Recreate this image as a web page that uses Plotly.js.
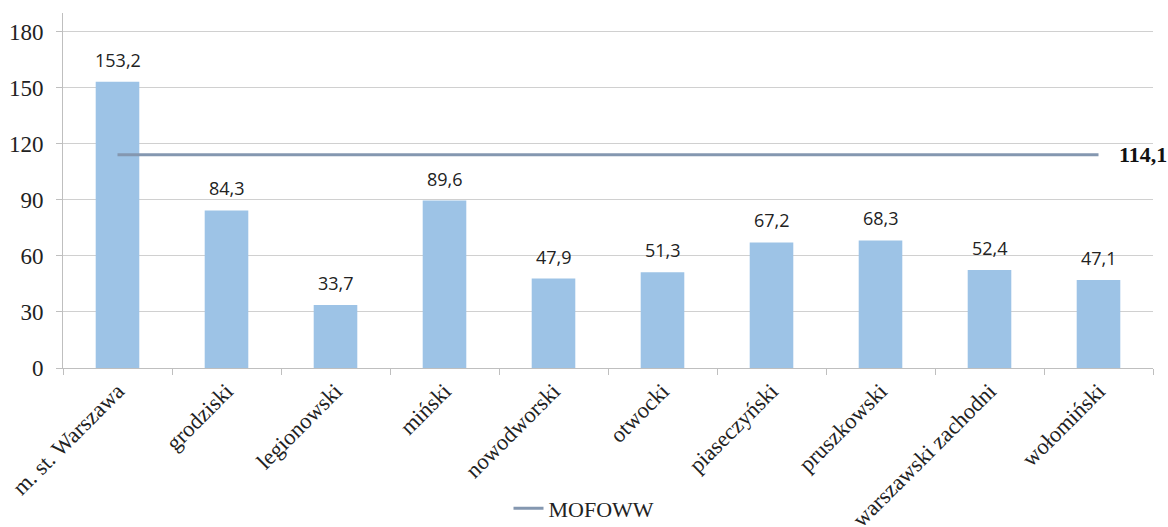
<!DOCTYPE html>
<html>
<head>
<meta charset="utf-8">
<script src="https://cdn.plot.ly/plotly-3.0.1.min.js"></script>
<style>html,body{margin:0;padding:0;background:#fff;}#chart{width:1168px;height:527px;}</style>
</head>
<body>
<div id="chart"></div>
<script>
const categories = ["m. st. Warszawa","grodziski","legionowski","miński","nowodworski","otwocki","piaseczyński","pruszkowski","warszawski zachodni","wołomiński"];
const values = [153.2, 84.3, 33.7, 89.6, 47.9, 51.3, 67.2, 68.3, 52.4, 47.1];
const mofowwValue = 114.1;
const mofowwLine = categories.map(() => mofowwValue);
const yTicks = [0, 30, 60, 90, 120, 150, 180];

const fmt = v => v.toFixed(1).replace('.', ',');

const bars = {
  type: 'bar', x: categories, y: values, width: 0.4,
  marker: {color: '#9DC3E6'}, showlegend: false, hoverinfo: 'x+y'
};
const line = {
  type: 'scatter', mode: 'lines', x: categories, y: mofowwLine,
  name: 'MOFOWW', line: {color: '#8497B0', width: 3}
};

const annotations = values.map((v, i) => ({
  x: categories[i], y: v, xref: 'x', yref: 'y', text: fmt(v),
  showarrow: false, yanchor: 'bottom', yshift: 8,
  font: {family: 'Open Sans, Liberation Sans, sans-serif', size: 18, color: '#222'}
}));
annotations.push({
  x: categories[categories.length - 1], y: mofowwValue, xref: 'x', yref: 'y',
  text: '<b>' + fmt(mofowwValue) + '</b>', showarrow: false,
  xanchor: 'left', xshift: 18, yanchor: 'middle',
  font: {family: 'Liberation Serif, serif', size: 22, color: '#111'}
});

const layout = {
  width: 1168, height: 527,
  margin: {l: 63, r: 15, t: 13, b: 159, autoexpand: false},
  paper_bgcolor: '#fff', plot_bgcolor: '#fff',
  separators: ', ',
  bargap: 0.6,
  xaxis: {
    type: 'category', range: [-0.5, categories.length - 0.5],
    tickangle: -45, tickson: 'boundaries',
    ticks: 'outside', ticklen: 6, tickcolor: '#BFBFBF',
    showline: true, linecolor: '#BFBFBF', linewidth: 1,
    showgrid: false, zeroline: false, automargin: false,
    tickfont: {family: 'Liberation Serif, serif', size: 22.5, color: '#222'}
  },
  yaxis: {
    range: [0, 190], tickvals: yTicks, ticktext: yTicks.map(String),
    ticks: 'outside', ticklen: 6, tickcolor: '#BFBFBF', ticklabelstandoff: 8,
    showline: true, linecolor: '#BFBFBF', linewidth: 1, automargin: false,
    showgrid: true, gridcolor: '#D0D0D0', gridwidth: 1, zeroline: false,
    tickfont: {family: 'Liberation Serif, serif', size: 23, color: '#222'}
  },
  legend: {
    orientation: 'h', x: 0.5, xref: 'container', xanchor: 'center',
    y: 0.035, yref: 'container', yanchor: 'middle',
    font: {family: 'Liberation Serif, serif', size: 22, color: '#222'}
  },
  annotations: annotations
};

Plotly.newPlot('chart', [bars, line], layout, {displayModeBar: false, staticPlot: true});
</script>
</body>
</html>
